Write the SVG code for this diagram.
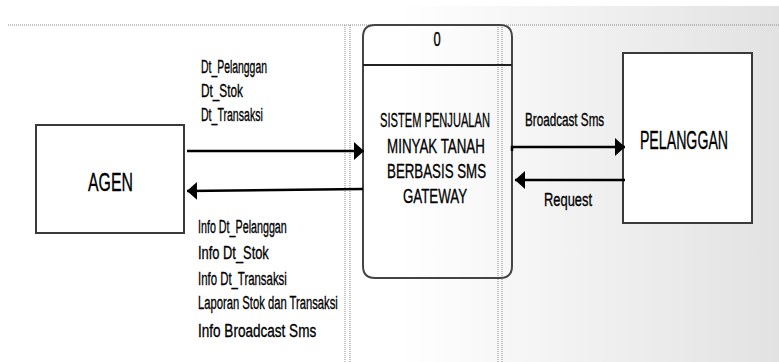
<svg xmlns="http://www.w3.org/2000/svg" width="779" height="362" viewBox="0 0 779 362">
<defs>
<linearGradient id="bg" x1="0" y1="0" x2="1" y2="0">
<stop offset="0" stop-color="#ffffff"/>
<stop offset="1" stop-color="#e2e2e2"/>
</linearGradient>
<marker id="ah" markerUnits="userSpaceOnUse" markerWidth="12" markerHeight="20" refX="10" refY="9" orient="auto">
<path d="M0,0 L10,9 L0,18 z" fill="#000"/>
</marker>
<style>
text{font-family:"Liberation Sans",Arial,sans-serif;fill:#000;stroke:#000;stroke-width:0.35;}
.lbl{font-size:19px;}
.proc{font-size:21px;text-anchor:middle;}
.ent{font-size:26px;text-anchor:middle;}
.box{fill:#fff;stroke:#3a3a3a;stroke-width:2;}
.dot{stroke:#888;stroke-width:1;stroke-dasharray:1,1;fill:none;}
.flow{stroke:#000;stroke-width:2.5;fill:none;marker-end:url(#ah);}
</style>
</defs>
<rect x="0" y="0" width="779" height="362" fill="#fff"/>
<rect x="400" y="6" width="379" height="356" fill="url(#bg)"/>
<g id="guides">
<line class="dot" x1="8" y1="25" x2="779" y2="25" stroke-width="2"/>
<line class="dot" x1="345" y1="25" x2="345" y2="362"/>
<line class="dot" x1="350" y1="25" x2="350" y2="362"/>
<line class="dot" x1="498" y1="25" x2="498" y2="362"/>
<line class="dot" x1="502" y1="25" x2="502" y2="362"/>
</g>
<g id="agen">
<rect class="box" x="36" y="125" width="148" height="108"/>
<text class="ent" transform="translate(110.5,191) scale(0.6,1)" textLength="75" lengthAdjust="spacingAndGlyphs">AGEN</text>
</g>
<g id="proses">
<path d="M375,25 L500,25 Q512,25 512,37 L512,266 Q512,278 500,278 L375,278 Q363,278 363,266 L363,37 Q363,25 375,25 z" fill="none" stroke="#444" stroke-width="2"/>
<line x1="363" y1="65" x2="512" y2="65" stroke="#222" stroke-width="2"/>
<text class="proc" transform="translate(437,46) scale(0.6,1)" textLength="12" lengthAdjust="spacingAndGlyphs">0</text>
<text class="proc" transform="translate(435,127) scale(0.6,1)" textLength="183" lengthAdjust="spacingAndGlyphs">SISTEM PENJUALAN</text>
<text class="proc" transform="translate(436,153) scale(0.6,1)" textLength="163" lengthAdjust="spacingAndGlyphs">MINYAK TANAH</text>
<text class="proc" transform="translate(436.5,178) scale(0.6,1)" textLength="165" lengthAdjust="spacingAndGlyphs">BERBASIS SMS</text>
<text class="proc" transform="translate(435,203) scale(0.6,1)" textLength="107" lengthAdjust="spacingAndGlyphs">GATEWAY</text>
</g>
<g id="pelanggan">
<rect class="box" x="623" y="53" width="129" height="170"/>
<text class="ent" transform="translate(684,149) scale(0.6,1)" textLength="147" lengthAdjust="spacingAndGlyphs">PELANGGAN</text>
</g>
<g id="connectors">
<line class="flow" x1="187" y1="151" x2="364" y2="151"/>
<line class="flow" x1="363" y1="189" x2="187" y2="191"/>
<path class="flow" d="M512,151 L512,147 L625,147"/>
<line class="flow" x1="625" y1="180" x2="515" y2="180"/>
</g>
<g id="labels">
<text class="lbl" transform="translate(201,73) scale(0.6,1)" textLength="110" lengthAdjust="spacingAndGlyphs">Dt_Pelanggan</text>
<text class="lbl" transform="translate(201,97) scale(0.6,1)" textLength="70" lengthAdjust="spacingAndGlyphs">Dt_Stok</text>
<text class="lbl" transform="translate(201,121) scale(0.6,1)" textLength="103" lengthAdjust="spacingAndGlyphs">Dt_Transaksi</text>
<text class="lbl" transform="translate(198,233) scale(0.6,1)" textLength="148" lengthAdjust="spacingAndGlyphs">Info Dt_Pelanggan</text>
<text class="lbl" transform="translate(198,259) scale(0.6,1)" textLength="118" lengthAdjust="spacingAndGlyphs">Info Dt_Stok</text>
<text class="lbl" transform="translate(198,285) scale(0.6,1)" textLength="148" lengthAdjust="spacingAndGlyphs">Info Dt_Transaksi</text>
<text class="lbl" transform="translate(198,309) scale(0.6,1)" textLength="233" lengthAdjust="spacingAndGlyphs">Laporan Stok dan Transaksi</text>
<text class="lbl" transform="translate(198,337) scale(0.6,1)" textLength="197" lengthAdjust="spacingAndGlyphs">Info Broadcast Sms</text>
<text class="lbl" transform="translate(525,126) scale(0.6,1)" textLength="132" lengthAdjust="spacingAndGlyphs">Broadcast Sms</text>
<text class="lbl" transform="translate(544,206) scale(0.6,1)" textLength="80" lengthAdjust="spacingAndGlyphs">Request</text>
</g>
</svg>
